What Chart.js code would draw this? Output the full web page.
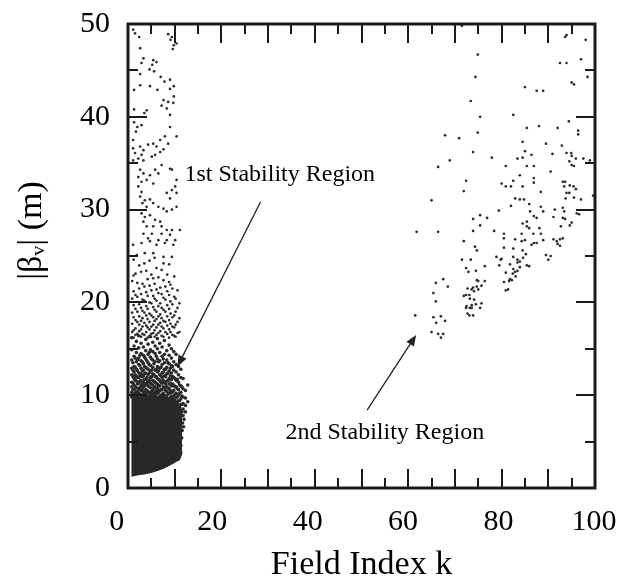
<!DOCTYPE html>
<html><head><meta charset="utf-8">
<script src="https://cdn.jsdelivr.net/npm/chart.js@4.4.1/dist/chart.umd.min.js"></script>
<style>html,body{margin:0;padding:0;background:#fff;}</style>
</head><body>
<canvas id="c" width="629" height="585" style="width:629px;height:585px;display:block"></canvas>
<script>
// ---- tick labels ----
const xTicks = [0, 20, 40, 60, 80, 100];
const yTicks = [0, 10, 20, 30, 40, 50];

// ---- saturated core of the 1st stability region (k, lower and upper edge of the solid blob) ----
const coreK    = [0.7, 1.5, 2.5, 3.5, 4.5, 5.5, 6.5, 7.5, 8.5, 9.5, 10.5, 11.1, 11.6];
const coreLow  = [1.2, 1.3, 1.4, 1.45, 1.55, 1.7, 1.85, 2.05, 2.3, 2.55, 2.85, 3.0, 3.6];
const coreHigh = [10.0, 10.4, 9.8, 10.3, 9.9, 10.4, 9.8, 10.2, 9.7, 9.9, 9.3, 8.8, 8.3];

// ---- dense speckle just above the core: k columns and the beta values read in each ----
const denseK = [0.8, 1.3, 1.8, 2.3, 2.8, 3.3, 3.8, 4.3, 4.8, 5.3, 5.8, 6.3, 6.8, 7.3, 7.8, 8.3, 8.8, 9.3, 9.8, 10.3, 10.8, 11.3, 11.8, 12.3, 12.8];
const denseBeta = [
  [9.8, 10.3, 10.9, 11.4, 12.2, 12.9, 13.8, 14.9, 16.2],
  [9.6, 10.1, 10.6, 11.1, 11.8, 12.5, 13.1, 14.2, 15.3],
  [9.9, 10.4, 10.8, 11.5, 12.0, 12.8, 13.6, 14.6, 15.8],
  [9.7, 10.2, 10.7, 11.3, 11.9, 12.4, 13.3, 14.0, 15.1, 16.4],
  [9.5, 10.0, 10.5, 11.0, 11.6, 12.3, 12.9, 13.7, 14.5, 15.6],
  [9.8, 10.3, 10.9, 11.4, 12.1, 12.7, 13.4, 14.3, 15.2],
  [9.6, 10.2, 10.6, 11.2, 11.7, 12.4, 13.0, 13.9, 14.8, 16.0],
  [9.9, 10.4, 11.0, 11.5, 12.2, 12.8, 13.5, 14.4, 15.5],
  [9.7, 10.1, 10.8, 11.3, 11.9, 12.6, 13.2, 14.1, 14.9, 16.3],
  [9.5, 10.0, 10.6, 11.1, 11.6, 12.3, 13.0, 13.8, 14.7, 15.7],
  [9.8, 10.3, 10.9, 11.4, 12.0, 12.7, 13.6, 14.5, 15.3],
  [9.6, 10.2, 10.7, 11.2, 11.8, 12.5, 13.1, 13.9, 15.0, 16.1],
  [9.9, 10.5, 11.0, 11.6, 12.2, 12.9, 13.7, 14.6, 15.6],
  [9.7, 10.1, 10.6, 11.3, 11.9, 12.4, 13.3, 14.2, 15.2],
  [9.5, 10.0, 10.8, 11.4, 12.1, 12.8, 13.5, 14.4, 15.9],
  [9.8, 10.4, 10.9, 11.5, 12.3, 13.0, 13.8, 14.8],
  [9.6, 10.2, 10.7, 11.2, 11.8, 12.6, 13.4, 14.3, 15.4],
  [9.9, 10.3, 11.0, 11.7, 12.4, 13.2, 14.0, 15.0],
  [9.4, 9.9, 10.5, 11.1, 11.9, 12.7, 13.6, 14.7],
  [9.2, 9.7, 10.2, 10.9, 11.6, 12.5, 13.3, 14.4],
  [8.8, 9.4, 10.0, 10.6, 11.4, 12.2, 13.1],
  [8.4, 9.0, 9.6, 10.3, 11.0, 11.9, 12.8],
  [7.8, 8.5, 9.1, 9.8, 10.7, 11.8],
  [8.2, 8.9, 9.7, 10.5],
  [9.3, 11.1]
];
// second, offset set of columns in the darkest band
const denseK2 = [1.05, 1.55, 2.05, 2.55, 3.05, 3.55, 4.05, 4.55, 5.05, 5.55, 6.05, 6.55, 7.05, 7.55, 8.05, 8.55, 9.05, 9.55, 10.05, 10.55, 11.05, 11.55];
const denseBeta2 = [
  [9.9, 10.6, 11.3, 12.0, 12.7, 13.5],
  [10.2, 10.9, 11.6, 12.2, 13.0, 14.0],
  [9.8, 10.4, 11.2, 11.9, 12.6, 13.8],
  [10.1, 10.8, 11.5, 12.1, 13.2, 14.3],
  [9.9, 10.6, 11.2, 12.0, 12.6, 13.6],
  [10.3, 11.0, 11.7, 12.3, 13.1, 14.1],
  [9.8, 10.5, 11.3, 11.9, 12.9, 13.7],
  [10.2, 10.9, 11.6, 12.4, 13.3, 14.6],
  [9.9, 10.4, 11.2, 12.0, 12.7, 13.9],
  [10.1, 10.8, 11.5, 12.2, 13.4],
  [9.8, 10.5, 11.3, 12.0, 12.8, 14.2],
  [10.3, 11.0, 11.7, 12.6, 13.6],
  [9.9, 10.6, 11.4, 12.1, 13.0],
  [10.2, 10.9, 11.6, 12.5, 13.9],
  [9.8, 10.5, 11.2, 12.0, 12.8],
  [10.1, 10.8, 11.6, 12.4, 13.5],
  [9.7, 10.5, 11.3, 12.1, 12.9],
  [9.6, 10.4, 11.2, 12.0, 13.1],
  [9.4, 10.1, 10.9, 11.8],
  [9.1, 9.8, 10.7, 11.7],
  [8.7, 9.4, 10.2, 11.1],
  [8.2, 9.0, 9.9, 10.9]
];
// ragged right edge of the core (k, beta)
const edgePoints = [[11.7, 7.0], [11.6, 6.2], [11.5, 5.4], [11.3, 4.6], [11.3, 3.8], [12.0, 7.4], [11.9, 6.6]];

// ---- medium density band of the 1st region (beta 16 - 25): k columns and beta values ----
const midK = [0.9, 1.2, 1.6, 2.0, 2.4, 2.8, 3.1, 3.5, 3.9, 4.2, 4.6, 5.0, 5.4, 5.7, 6.1, 6.5, 6.9, 7.2, 7.6, 8.0, 8.4, 8.8, 9.1, 9.5, 9.9, 10.2, 10.6, 11.0];
const midBeta = [
  [16.8, 17.7, 18.9, 20.4, 22.3],
  [16.2, 17.0, 18.4, 19.7, 21.2, 22.9, 24.6],
  [16.5, 17.2, 18.1, 19.3, 20.8, 23.1],
  [16.6, 17.9, 19.0, 20.6, 22.1],
  [16.9, 17.6, 18.5, 19.8, 21.5, 24.0],
  [16.3, 17.1, 18.0, 19.4, 20.9, 23.3],
  [16.6, 17.4, 18.3, 19.1, 20.3, 22.0],
  [16.5, 17.8, 18.9, 20.2, 21.7, 24.2],
  [16.8, 17.5, 18.6, 19.6, 21.1, 23.4],
  [16.2, 17.3, 18.2, 19.3, 20.7, 22.5],
  [16.4, 17.1, 17.9, 18.8, 20.0, 21.8, 24.5],
  [16.6, 17.4, 18.6, 19.9, 21.3, 23.0],
  [16.7, 17.6, 18.4, 19.5, 20.7, 22.6],
  [16.3, 17.0, 18.0, 19.2, 20.4, 22.0, 24.8],
  [16.5, 17.3, 18.2, 19.0, 20.2, 21.4, 23.7],
  [16.7, 17.6, 18.5, 19.6, 21.0, 22.7],
  [16.9, 17.8, 18.7, 19.9, 21.6],
  [16.4, 17.4, 18.3, 19.4, 20.9, 23.5],
  [16.3, 17.2, 18.0, 19.2, 20.5, 22.4, 24.2],
  [16.8, 17.9, 19.0, 20.3, 21.7],
  [16.6, 17.5, 18.5, 19.7, 21.2, 23.0],
  [16.2, 17.1, 18.1, 19.3, 20.8, 22.2, 24.1],
  [16.8, 17.7, 18.8, 20.1, 21.9],
  [16.5, 17.4, 18.4, 19.8, 21.5],
  [16.4, 17.3, 18.6, 20.6, 22.8],
  [16.3, 17.6, 19.0, 20.4],
  [16.7, 17.9, 19.4, 21.3],
  [16.8, 18.3, 19.9]
];

// ---- sparse upper part of the 1st region (k, beta) ----
const firstSparse = [
  [1.1,49.4],[1.5,49],[2.4,48.6],[2.6,47.4],[8.6,48.9],[9.4,48.6],[9.1,48.3],[9.8,47.7],[10.4,47.9],[9.6,47.3],
  [3.3,46.3],[2.9,45.8],[5.4,46.1],[6.1,45.9],[5.2,45.6],[4.6,45.1],[5.6,44.9],[2.6,44.6],[7,44.3],[7.8,43.8],
  [9,44],[9.8,43.3],[9,43],[9.8,42.2],[1.3,42.9],[2.6,43.4],[4.7,43.3],[6.3,42.9],[7.6,41.8],[8.6,41.6],
  [7.2,41.2],[8.3,40.9],[9.7,41.5],[1.3,40.8],[3.5,40.4],[4,40.7],[9,40.2],[1.3,39.4],[2,38.9],[2.9,39.1],
  [1.7,38.4],[9,38.9],[10.4,37.9],[7.9,37.9],[6.9,37.5],[8.6,37.1],[5.4,37.1],[4.3,37],[6.1,36.8],[3.3,36.4],
  [2.6,36.8],[1.1,37.5],[1.1,36.6],[1.5,36.1],[1.1,35.3],[6.9,36.2],[5.8,35.9],[5.1,35.7],[7.6,36.5],[2.9,35.9],
  [2.2,35.5],[3.3,35.3],[7.2,34.8],[9,34.4],[9.4,34.3],[5.8,34.3],[4.7,33.7],[6.5,33.9],[2.6,34.3],[3.3,33.9],
  [2.2,33.5],[2.9,33],[4,33.2],[5.4,32.8],[10.4,33.2],[10.1,32.5],[9.4,32.1],[8.3,31.8],[9,31.2],[10.4,31.8],
  [2.2,32.5],[2.9,31.9],[2.6,31.4],[3.6,31],[4.7,31.1],[3.1,30.7],[4,30.3],[5.4,30.7],[6.5,30.3],[7.6,30.1],
  [8.3,29.8],[9.4,30],[10.4,30.3],[2.9,29.6],[3.6,29.2],[4.7,29.4],[5.8,28.9],[6.9,28.7],[3.3,28.7],[4,28.2],
  [5.4,28.2],[7.2,28.2],[8.3,27.8],[9.4,27.8],[11.1,27.8],[9,27.3],[7.2,27.4],[5.1,27.4],[3.3,27.4],[4.3,26.9],
  [6.5,26.7],[8.3,26.7],[10.1,26.7],[1.1,26.2],[2.9,26.4],[4.7,26.6],[6.1,26.2],[7.9,26.4],[9.7,26.2],[1.9,25.1],
  [3.6,25.3],[5.4,25.3],[7.6,24.9],[9.4,24.9]
];

// ---- 2nd stability region (k, beta) ----
const secondRegion = [
  [71.5,49.8],[93.6,48.6],[93.9,48.8],[98,48.3],[74.9,46.7],[92.5,45.8],[93.9,45.8],[97,46.2],[98.4,44.3],[74.4,44.3],
  [95,43.7],[95.5,43.5],[85,43.2],[87.5,42.8],[88.9,42.8],[73.4,41.7],[75.4,40],[82.5,40.2],[94.4,39.5],[85.4,38.8],
  [88,39],[92,38.8],[96.4,38.5],[96.4,38.1],[67.9,38],[70.9,37.7],[74.9,38.3],[84.5,37.3],[89.5,37.1],[92.9,36.9],
  [85,36.3],[86.4,35.9],[93.9,36.1],[94.9,36.1],[95,35.8],[90.9,36],[73.9,36.2],[77.9,35.6],[83.4,35.5],[84.5,35.6],
  [95.9,35.5],[97.5,35.5],[98.9,35.3],[94.5,35.2],[95,34.8],[95.5,34.7],[68.9,35.3],[66.4,34.6],[80.9,34.7],[85.4,34.7],
  [86.9,34.7],[90.5,34.1],[83.9,33.7],[86.9,33.4],[86.9,32.9],[72.4,33.1],[82.5,33.1],[80,32.8],[80.9,32.5],[82,32.5],
  [84.5,32.5],[93.1,33],[93.6,33],[93.4,32.5],[94.6,32.6],[95.4,32.5],[95.9,32.2],[71.9,32],[88.4,31.9],[93.9,31.8],
  [94.5,31.8],[99.6,31.5],[65,31],[82.9,31.2],[83.9,31.1],[84.8,31.1],[93.7,31.2],[95.5,31.3],[97,31.1],
  [82,30.4],[85.9,30.6],[88.4,30.3],[88.9,29.8],[93.1,30.2],[93.4,29.8],[91.4,30],[91.1,29.2],[96.1,29.6],[96.6,29.5],
  [79.4,29.9],[86.1,29.8],[86.9,29.3],[87.5,29.1],[85.4,28.7],[84.5,28.5],[75.4,29.4],[73.9,29],[76.9,29.1],[75.4,28.3],
  [73.9,27.7],[78.4,27.7],[80.5,27.4],[80.5,26.9],[82.9,26.8],[84.3,26.6],[85,26.7],[84.3,27.4],[85.4,28.2],[85.9,28],
  [86.8,27.4],[88.1,28],[88.4,27.4],[88.9,26.7],[86.4,26.2],[86.9,26.4],[87.5,26.4],[91.1,26.8],[91.8,26.6],[92.5,26.8],
  [93.1,26.9],[92,26.3],[92.5,26.1],[71.9,26.6],[74.3,26],[74.7,25.6],[80.5,25.9],[82.5,25.8],[84.5,25.6],[85.2,25.2],
  [84.6,24.8],[89.5,25.1],[90.5,25],[90,24.6],[71.5,24.6],[73.4,24.6],[78.9,24.9],[79.8,24.6],[80,24.7],[82.5,24.9],
  [83.4,24.6],[83.9,24.4],[83.4,24.3],[85.4,24],[85.9,23.9],[79.5,24],[81.8,24.1],[76.4,23.9],[72.4,23.7],[72.9,23.3],
  [74.5,23.4],[82.5,23.6],[82.9,23.3],[83.4,23.4],[82.4,23.1],[83.9,23.8],[80.9,23.2],[83,22.8],[82.2,22.4],[80.5,22.2],
  [81.6,22.3],[81.8,22.5],[80.9,21.3],[81.4,21.4],[74.7,22.4],[75,22.3],[76.4,22.3],[75.7,21.8],[74.7,21.7],[73.9,21.6],
  [74.1,21.2],[75,21.4],[73.6,21.4],[72.7,21.5],[72.4,20.8],[71.9,20.7],[73.1,20.8],[73.2,20.4],[74.1,20.3],[75.7,19.9],
  [74.5,19.8],[73.6,19.7],[72.5,19.6],[72.4,19.4],[73.2,19.4],[73.6,19.4],[75.4,19.4],[72.7,18.8],[73.1,18.6],[73.9,18.6],
  [61.8,27.6],[66.4,27.6],[67.5,22.5],[68.5,21.7],[65.9,22.1],[65.4,21],[65.9,20.1],[61.5,18.6],[65.4,18.4],[67,18.5],
  [66,17.8],[67.9,18],[65,16.8],[66.4,16.6],[67.5,16.6],[67,16.2],[92.7,28.2],[94.6,28.3],[95,28.6],[93.1,29.1],[93.6,29]
];

// ---- build point lists ----
const toXY = p => ({x: p[0], y: p[1]});
const colsToXY = (ks, betas) => ks.flatMap((k, i) => betas[i].map(b => ({x: k, y: b})));
const corePolyLow  = coreK.map((k, i) => ({x: k, y: coreLow[i]}));
const corePolyHigh = coreK.map((k, i) => ({x: k, y: coreHigh[i]}));
const densePts = colsToXY(denseK, denseBeta).concat(colsToXY(denseK2, denseBeta2), edgePoints.map(toXY));
const firstPts = colsToXY(midK, midBeta).concat(firstSparse.map(toXY));
const secondPts = secondRegion.map(toXY);

const SERIF = '"Liberation Serif", "Times New Roman", "DejaVu Serif", serif';
const DOT = '#2e2e2e';

const notes = {
  texts: [
    {text: '1st Stability Region', k: 32.5, b: 33.8},
    {text: '2nd Stability Region', k: 55.0, b: 6.0}
  ],
  arrows: [
    {from: [28.4, 30.85], to: [10.6, 13.1]},
    {from: [51.2, 8.4], to: [61.7, 16.5]}
  ]
};

const framePlugin = {
  id: 'frame',
  afterDatasetsDraw(chart) {
    const {ctx, chartArea: a, scales: {x, y}} = chart;
    ctx.save();
    ctx.strokeStyle = '#1a1a1a';
    ctx.lineWidth = 2;
    ctx.beginPath();
    for (let v = 5; v < 100; v += 5) {
      const px = Math.round(x.getPixelForValue(v));
      const L = v % 10 === 0 ? 19 : 10;
      ctx.moveTo(px, a.bottom); ctx.lineTo(px, a.bottom - L);
      ctx.moveTo(px, a.top); ctx.lineTo(px, a.top + L);
    }
    for (let v = 5; v < 50; v += 5) {
      const py = Math.round(y.getPixelForValue(v));
      const L = v % 10 === 0 ? 19 : 10;
      ctx.moveTo(a.left, py); ctx.lineTo(a.left + L, py);
      ctx.moveTo(a.right, py); ctx.lineTo(a.right - L, py);
    }
    ctx.stroke();
    ctx.lineWidth = 3;
    ctx.strokeRect(a.left, a.top, a.right - a.left, a.bottom - a.top);

    // annotations
    ctx.fillStyle = '#000';
    ctx.font = '24px ' + SERIF;
    ctx.textAlign = 'center';
    ctx.textBaseline = 'middle';
    notes.texts.forEach(t => ctx.fillText(t.text, x.getPixelForValue(t.k), y.getPixelForValue(t.b)));
    ctx.strokeStyle = '#222';
    ctx.fillStyle = '#222';
    ctx.lineWidth = 1.3;
    notes.arrows.forEach(ar => {
      const x0 = x.getPixelForValue(ar.from[0]), y0 = y.getPixelForValue(ar.from[1]);
      const x1 = x.getPixelForValue(ar.to[0]), y1 = y.getPixelForValue(ar.to[1]);
      const ang = Math.atan2(y1 - y0, x1 - x0);
      const hl = 11, hw = 4.5;
      const bx = x1 - hl * Math.cos(ang), by = y1 - hl * Math.sin(ang);
      ctx.beginPath(); ctx.moveTo(x0, y0); ctx.lineTo(bx, by); ctx.stroke();
      ctx.beginPath();
      ctx.moveTo(x1, y1);
      ctx.lineTo(bx + hw * Math.sin(ang), by - hw * Math.cos(ang));
      ctx.lineTo(bx - hw * Math.sin(ang), by + hw * Math.cos(ang));
      ctx.closePath(); ctx.fill();
    });
    ctx.restore();
  }
};

new Chart(document.getElementById('c'), {
  type: 'scatter',
  data: {
    datasets: [
      {label: 'core low', data: corePolyLow, showLine: true, borderWidth: 0, borderColor: 'rgba(0,0,0,0)', pointRadius: 0, fill: false},
      {label: 'core high', data: corePolyHigh, showLine: true, borderWidth: 0, borderColor: 'rgba(0,0,0,0)', pointRadius: 0, fill: '-1', backgroundColor: '#282828'},
      {label: 'dense', data: densePts, pointRadius: 1.8, borderWidth: 0, backgroundColor: '#2a2a2a'},
      {label: '1st region', data: firstPts, pointRadius: 1.35, borderWidth: 0, backgroundColor: DOT},
      {label: '2nd region', data: secondPts, pointRadius: 1.35, borderWidth: 0, backgroundColor: DOT}
    ]
  },
  options: {
    responsive: false,
    animation: false,
    devicePixelRatio: 1,
    events: [],
    layout: {padding: {top: 24, right: 34, left: 0, bottom: 0}},
    plugins: {legend: {display: false}, tooltip: {enabled: false}},
    scales: {
      x: {type: 'linear', min: 0, max: 100, display: false},
      xl: {
        type: 'linear', position: 'bottom', min: 2.37, max: 100.2,
        afterBuildTicks: s => { s.ticks = xTicks.map(v => ({value: v})); },
        afterFit: s => { s.height = 97; },
        grid: {display: false, drawTicks: true, tickLength: 6},
        border: {display: false},
        ticks: {color: '#000', font: {family: SERIF, size: 30}, padding: 10, maxRotation: 0, autoSkip: false},
        title: {display: true, text: 'Field Index k', color: '#000', font: {family: SERIF, size: 34}, padding: {top: 0, bottom: 0}}
      },
      y: {
        type: 'linear', min: 0, max: 50,
        afterBuildTicks: s => { s.ticks = yTicks.map(v => ({value: v})); },
        afterFit: s => { s.width = 128; },
        grid: {display: false, drawTicks: true, tickLength: 12},
        border: {display: false},
        ticks: {color: '#000', font: {family: SERIF, size: 30, lineHeight: 1}, padding: 6, autoSkip: false},
        title: {display: true, text: '\u00a0\u00a0\u00a0\u00a0\u00a0\u00a0|\u03b2\u1d65| (m)', color: '#000', font: {family: SERIF, size: 34}, padding: {top: 12, bottom: 0}}
      }
    }
  },
  plugins: [framePlugin]
});
</script>
</body></html>
